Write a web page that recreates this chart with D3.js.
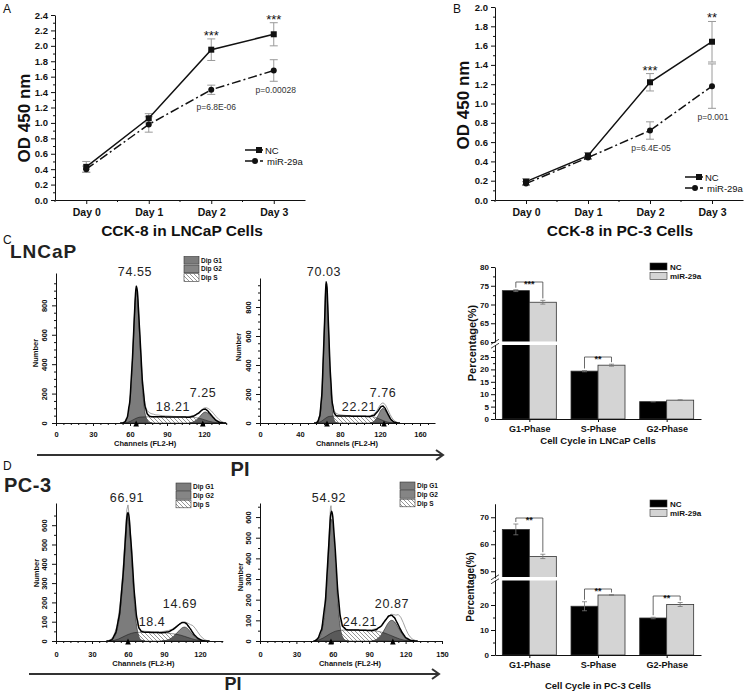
<!DOCTYPE html>
<html><head><meta charset="utf-8">
<script src="https://cdn.jsdelivr.net/npm/d3@7"></script>
<style>body{margin:0;background:#fff}svg{display:block;font-family:Arial,"Liberation Sans",sans-serif}</style>
</head><body><svg id="c" width="750" height="695"></svg>
<script>
// ---------- data ----------
const days = ["Day 0","Day 1","Day 2","Day 3"];
const lncapNC = [0.43,1.06,1.95,2.15];
const lncapNCerr = [0.07,0.06,0.14,0.15];
const lncapMiR = [0.40,0.98,1.43,1.68];
const lncapMiRerr = [0.04,0.10,0.06,0.14];
const lncapStars = ["","","***","***"];
const lncapP = ["","","p=6.8E-06","p=0.00028"];
const pc3NC = [0.19,0.46,1.22,1.64];
const pc3NCerr = [0.03,0.03,0.09,0.21];
const pc3MiR = [0.17,0.44,0.72,1.18];
const pc3MiRerr = [0.02,0.02,0.09,0.23];
const pc3Stars = ["","","***","**"];
const pc3P = ["","","p=6.4E-05","p=0.001"];

const phases = ["G1-Phase","S-Phase","G2-Phase"];
const lncapBarNC = [73.7,19.3,7.0];
const lncapBarNCerr = [0.25,0.25,0.1];
const lncapBarMiR = [70.6,21.7,7.6];
const lncapBarMiRerr = [0.5,0.4,0.15];
const lncapBarSig = ["***","**",""];
const pc3BarNC = [65.5,19.5,14.8];
const pc3BarNCerr = [2.0,1.8,0.3];
const pc3BarMiR = [55.5,24.0,20.2];
const pc3BarMiRerr = [0.8,0.2,0.8];
const pc3BarSig = ["**","**","**"];

// flow histograms: [channel, count]
const lncapNC_G1 = [[54,0],[56,8],[58,40],[60,150],[62,420],[64,780],[65,900],[66,860],[68,560],[70,250],[72,80],[74,20],[76,3],[78,0]];
const lncapNC_S = [[56,0],[60,10],[64,28],[68,40],[75,42],[85,42],[95,41],[105,40],[112,38],[118,28],[124,12],[130,2],[134,0]];
const lncapNC_G2 = [[108,0],[112,10],[116,38],[119,66],[121,75],[123,68],[126,44],[129,20],[132,6],[136,0]];
const lncapNC_raw = [[52,0],[55,5],[57,20],[59,65],[61,260],[63,620],[64,820],[65,905],[66,880],[67,780],[68,600],[69,430],[70,300],[71,200],[72,140],[73,100],[74,85],[75,75],[76,70],[77,64],[79,60],[81,55],[83,54],[86,50],[89,48],[92,47],[95,45],[98,44],[101,44],[104,43],[107,44],[110,47],[113,55],[116,75],[118,90],[120,102],[122,104],[124,96],[126,82],[128,62],[130,42],[132,25],[134,12],[136,4],[138,0]];
const lncapNC_pct = ["74.55","18.21","7.25"];

const lncapMiR_G1 = [[56,0],[58,10],[60,50],[62,200],[64,560],[66,940],[67,900],[68,720],[70,350],[72,110],[74,25],[76,4],[78,0]];
const lncapMiR_S = [[57,0],[61,10],[65,30],[69,45],[76,48],[85,48],[95,47],[105,46],[112,44],[118,32],[124,14],[130,3],[134,0]];
const lncapMiR_G2 = [[110,0],[114,12],[118,50],[121,90],[123,100],[125,90],[128,55],[131,22],[134,6],[138,0]];
const lncapMiR_raw = [[54,0],[57,8],[59,30],[61,120],[63,380],[65,800],[66,960],[67,930],[68,760],[69,560],[70,380],[71,240],[72,160],[73,110],[74,85],[76,68],[78,60],[80,57],[83,54],[86,52],[90,50],[94,49],[98,48],[102,47],[106,47],[110,50],[113,58],[116,75],[118,98],[120,122],[122,138],[124,136],[126,118],[128,90],[130,60],[132,35],[134,18],[136,8],[138,2],[140,0]];
const lncapMiR_pct = ["70.03","22.21","7.76"];

const pc3NC_G1 = [[44,0],[47,8],[50,40],[53,130],[56,330],[58,520],[59.5,650],[61,600],[63,430],[65,230],[67,90],[69,25],[71,5],[74,0]];
const pc3NC_S = [[46,0],[52,10],[58,28],[63,40],[68,45],[76,45],[84,44],[92,41],[98,37],[104,30],[110,18],[116,7],[122,1],[126,0]];
const pc3NC_G2 = [[88,0],[94,8],[98,25],[102,50],[105,68],[107,72],[109,68],[112,48],[115,25],[118,10],[121,3],[124,0]];
const pc3NC_raw = [[42,0],[45,5],[48,25],[51,80],[54,220],[56,380],[58,580],[59,680],[60,705],[61,650],[62,560],[63,470],[64,360],[65,270],[66,180],[67,120],[68,85],[70,60],[72,52],[75,50],[78,49],[82,48],[86,48],[90,50],[94,55],[97,62],[100,75],[103,88],[106,96],[108,98],[110,92],[112,85],[114,80],[116,66],[118,48],[120,30],[122,16],[124,7],[126,2],[128,0]];
const pc3NC_pct = ["66.91","18.4","14.69"];

const pc3MiR_G1 = [[45,0],[48,10],[51,50],[54,180],[56,370],[58,560],[59,590],[60,560],[62,400],[64,200],[66,75],[68,20],[71,2],[73,0]];
const pc3MiR_S = [[46,0],[52,14],[58,36],[64,50],[70,53],[80,53],[90,51],[97,47],[103,38],[109,24],[115,10],[121,2],[126,0]];
const pc3MiR_G2 = [[92,0],[96,8],[100,30],[103,60],[106,90],[108.5,100],[111,92],[114,65],[117,35],[120,14],[124,3],[128,0]];
const pc3MiR_raw = [[44,0],[47,8],[50,35],[53,130],[55,280],[57,520],[58,640],[58.5,655],[59,620],[60,560],[61,480],[62,400],[63,300],[64,220],[65,150],[66,105],[67,80],[68,68],[70,58],[73,55],[77,54],[81,53],[85,52],[89,53],[93,56],[97,62],[100,75],[103,95],[106,118],[108,130],[110,128],[112,125],[114,128],[116,115],[118,90],[120,60],[122,35],[124,18],[126,8],[128,3],[130,0]];
const pc3MiR_pct = ["54.92","24.21","20.87"];

const legendNames = ["Dip G1","Dip G2","Dip S"];

// ---------- drawing ----------
const svg = d3.select("#c");
const defs = svg.append("defs");
const pat = defs.append("pattern").attr("id","hatch").attr("patternUnits","userSpaceOnUse").attr("width",4).attr("height",4);
pat.append("rect").attr("width",4).attr("height",4).attr("fill","#fff");
pat.append("path").attr("d","M-1,-1 L5,5 M-1,3 L1,5 M3,-1 L5,1").attr("stroke","#6a6a6a").attr("stroke-width",0.7);

function txt(x,y,s,o={}){
  const t = svg.append("text").attr("x",x).attr("y",y).text(s)
    .attr("font-size",o.size||10).attr("font-weight",o.bold?"bold":"normal")
    .attr("text-anchor",o.anchor||"start").attr("fill",o.fill||"#111");
  if(o.rot) t.attr("transform",`rotate(-90,${x},${y})`);
  if(o.ls) t.attr("letter-spacing",o.ls);
  return t;
}
function styleAxis(g,size,bold=true){
  g.attr("font-family",null);
  g.selectAll("text").attr("font-size",size).attr("font-weight",bold?"bold":"normal").attr("fill","#111");
  g.selectAll("line,path").attr("stroke","#111");
}

// ---- line panels ----
function linePanel(o){
  const x = d3.scalePoint().domain(days).range([o.x0,o.x1]).padding(0.5);
  const y = d3.scaleLinear().domain([0,o.ymax]).range([o.yb,o.yt]);
  const ya = svg.append("g").attr("transform",`translate(${o.x0},0)`)
    .call(d3.axisLeft(y).tickValues(d3.range(0,o.ymax+1e-9,0.2)).tickFormat(d3.format(".1f")).tickSize(4).tickSizeOuter(0).tickPadding(3));
  styleAxis(ya,9.5);
  const ym = svg.append("g").attr("transform",`translate(${o.x0},0)`)
    .call(d3.axisLeft(y).tickValues(d3.range(0.1,o.ymax,0.2)).tickSize(2).tickFormat(""));
  ym.select(".domain").remove(); styleAxis(ym,9);
  const xa = svg.append("g").attr("transform",`translate(0,${o.yb})`)
    .call(d3.axisBottom(x).tickSize(4).tickSizeOuter(0).tickPadding(5));
  styleAxis(xa,10.5);
  const step = x.step();
  days.forEach((d,i)=>{ if(i<3) svg.append("line").attr("x1",x(d)+step/2).attr("x2",x(d)+step/2).attr("y1",o.yb).attr("y2",o.yb+2).attr("stroke","#111"); });
  svg.append("line").attr("x1",x(days[0])-step/2).attr("x2",x(days[0])-step/2).attr("y1",o.yb).attr("y2",o.yb+2).attr("stroke","#111");

  const series = [
    {v:o.nc, e:o.ncErr, dash:null, mark:"sq"},
    {v:o.mir, e:o.mirErr, dash:"9,3,2,3", mark:"ci"}
  ];
  series.forEach(s=>{
    s.v.forEach((v,i)=>{
      const cx = x(days[i]);
      const g = svg.append("g").attr("stroke","#9a9a9a").attr("stroke-width",1);
      g.append("line").attr("x1",cx).attr("x2",cx).attr("y1",y(v-s.e[i])).attr("y2",y(v+s.e[i]));
      [v-s.e[i],v+s.e[i]].forEach(w=>g.append("line").attr("x1",cx-4).attr("x2",cx+4).attr("y1",y(w)).attr("y2",y(w)));
    });
  });
  series.forEach(s=>{
    const line = d3.line().x((d,i)=>x(days[i])).y(d=>y(d));
    const p = svg.append("path").attr("d",line(s.v)).attr("fill","none").attr("stroke","#111").attr("stroke-width",1.5);
    if(s.dash) p.attr("stroke-dasharray",s.dash);
    s.v.forEach((v,i)=>{
      if(s.mark==="sq") svg.append("rect").attr("x",x(days[i])-3).attr("y",y(v)-3).attr("width",6).attr("height",6).attr("fill","#111");
      else svg.append("circle").attr("cx",x(days[i])).attr("cy",y(v)).attr("r",3).attr("fill","#111");
    });
  });
  o.stars.forEach((s,i)=>{ if(s) txt(x(days[i]),y(o.nc[i]+o.ncErr[i])+1,s,{size:13,anchor:"middle"}); });
  o.p.forEach((s,i)=>{ if(s) txt(x(days[i])+o.pdx[i],o.py[i],s,{size:8.5,anchor:"middle",fill:"#333"}); });
  const lg = [{n:"NC",mark:"sq",dash:null,y:o.ly},{n:"miR-29a",mark:"ci",dash:"7,3,2,3",y:o.ly+11}];
  lg.forEach(l=>{
    const p = svg.append("line").attr("x1",o.lx).attr("x2",o.lx+18).attr("y1",l.y).attr("y2",l.y).attr("stroke","#111").attr("stroke-width",1.5);
    if(l.dash) p.attr("stroke-dasharray",l.dash);
    if(l.mark==="sq") svg.append("rect").attr("x",o.lx+11).attr("y",l.y-3).attr("width",6).attr("height",6).attr("fill","#111");
    else svg.append("circle").attr("cx",o.lx+10).attr("cy",l.y).attr("r",3).attr("fill","#111");
    txt(o.lx+(l.mark==="sq"?20:22),l.y+3.5,l.n,{size:9.5});
  });
  txt(o.ylx,o.yly,"OD 450 nm",{size:17,bold:true,anchor:"middle",rot:true});
  txt(o.tx,236,o.title,{size:15.5,bold:true,anchor:"middle"});
}

linePanel({x0:55,x1:305,yb:200,yt:15,ymax:2.4,nc:lncapNC,ncErr:lncapNCerr,mir:lncapMiR,mirErr:lncapMiRerr,
  stars:lncapStars,p:lncapP,pdx:[0,0,5,2],py:[0,0,110,93],lx:245,ly:150,ylx:30,yly:118,tx:182,title:"CCK-8 in LNCaP Cells"});
linePanel({x0:495,x1:743,yb:200,yt:7,ymax:2.0,nc:pc3NC,ncErr:pc3NCerr,mir:pc3MiR,mirErr:pc3MiRerr,
  stars:pc3Stars,p:pc3P,pdx:[0,0,1,1],py:[0,0,151,120],lx:685,ly:177,ylx:469,yly:105,tx:620,title:"CCK-8 in PC-3 Cells"});

txt(3,13,"A",{size:12});
txt(453,13,"B",{size:12});
txt(3,244,"C",{size:12});
txt(3,470,"D",{size:12});

// ---- bar panels ----
function barPanel(o){
  const x = d3.scalePoint().domain(phases).range([495,701]).padding(0.5);
  const yL = d3.scaleLinear().domain([0,o.lowMax]).range([o.yb,o.lowTop]);
  const yU = d3.scaleLinear().domain(o.upDom).range(o.upRange);
  const yv = v => v<=o.lowMax ? yL(v) : yU(v);
  const bw = 27;
  const groups = [{v:o.nc,e:o.ncErr,fill:"#000",dx:-bw},{v:o.mir,e:o.mirErr,fill:"#d4d4d4",dx:0}];
  groups.forEach(g=>{
    g.v.forEach((v,i)=>{
      svg.append("rect").attr("x",x(phases[i])+g.dx).attr("y",yv(v)).attr("width",bw).attr("height",o.yb-yv(v))
        .attr("fill",g.fill).attr("stroke","#333").attr("stroke-width",0.8);
    });
  });
  svg.append("rect").attr("x",496).attr("y",o.gap[0]).attr("width",210).attr("height",o.gap[1]-o.gap[0]).attr("fill","#fff");
  groups.forEach(g=>{
    g.v.forEach((v,i)=>{
      const cx = x(phases[i])+g.dx+bw/2;
      const eg = svg.append("g").attr("stroke","#777").attr("stroke-width",0.8);
      eg.append("line").attr("x1",cx).attr("x2",cx).attr("y1",yv(v-g.e[i])).attr("y2",yv(v+g.e[i]));
      [v-g.e[i],v+g.e[i]].forEach(w=>eg.append("line").attr("x1",cx-2.5).attr("x2",cx+2.5).attr("y1",yv(w)).attr("y2",yv(w)));
    });
  });
  const aL = svg.append("g").attr("transform","translate(495,0)")
    .call(d3.axisLeft(yL).tickValues(o.lowTicks).tickSize(4).tickSizeOuter(0).tickPadding(2));
  styleAxis(aL,8);
  const aLm = svg.append("g").attr("transform","translate(495,0)").call(d3.axisLeft(yL).tickValues(o.lowMinor).tickSize(2).tickFormat(""));
  aLm.select(".domain").remove(); styleAxis(aLm,8);
  const aU = svg.append("g").attr("transform","translate(495,0)")
    .call(d3.axisLeft(yU).tickValues(o.upTicks).tickSize(4).tickSizeOuter(0).tickPadding(2));
  styleAxis(aU,8);
  const aUm = svg.append("g").attr("transform","translate(495,0)").call(d3.axisLeft(yU).tickValues(o.upMinor).tickSize(2).tickFormat(""));
  aUm.select(".domain").remove(); styleAxis(aUm,8);
  const bm = (o.gap[0]+o.gap[1])/2;
  svg.append("path").attr("d",`M491,${bm+1} L499,${bm-4} M491,${bm+5} L499,${bm}`).attr("stroke","#111").attr("stroke-width",0.8).attr("fill","none");
  const aX = svg.append("g").attr("transform",`translate(0,${o.yb})`)
    .call(d3.axisBottom(x).tickSize(3).tickSizeOuter(0).tickPadding(4));
  styleAxis(aX,9);
  o.sig.forEach((s,i)=>{
    if(!s) return;
    const x1 = x(phases[i])-bw/2, x2 = x(phases[i])+bw/2, by = o.sigY[i];
    const l1 = yv(o.nc[i]+o.ncErr[i])-2, l2 = yv(o.mir[i]+o.mirErr[i])-2;
    svg.append("path").attr("d",`M${x1},${l1} L${x1},${by} L${x2},${by} L${x2},${l2}`).attr("fill","none").attr("stroke","#444").attr("stroke-width",0.8);
    txt(x(phases[i]),by+4.5,s,{size:9,bold:true,anchor:"middle"});
  });
  [{n:"NC",f:"#000"},{n:"miR-29a",f:"#d4d4d4"}].forEach((l,i)=>{
    const yy = o.ly+i*9.5;
    svg.append("rect").attr("x",650).attr("y",yy).attr("width",17).attr("height",7).attr("fill",l.f).attr("stroke","#333").attr("stroke-width",0.6);
    txt(670,yy+6.5,l.n,{size:8,bold:true});
  });
  txt(o.ylx,o.yly,"Percentage(%)",{size:o.ylsize,bold:true,anchor:"middle",rot:true});
  txt(598,o.ty,o.title,{size:9.5,bold:true,anchor:"middle"});
}

barPanel({yb:419,lowMax:30,lowTop:344.6,upDom:[60,80],upRange:[342,267],gap:[341.5,345],
  lowTicks:[0,5,10,15,20,25],lowMinor:[2.5,7.5,12.5,17.5,22.5,27.5],upTicks:[60,65,70,75,80],upMinor:[62.5,67.5,72.5,77.5],
  nc:lncapBarNC,ncErr:lncapBarNCerr,mir:lncapBarMiR,mirErr:lncapBarMiRerr,sig:lncapBarSig,sigY:[282,357,0],
  ly:263,ylx:476,yly:343,ylsize:11,ty:444,title:"Cell Cycle in LNCaP Cells"});
barPanel({yb:655,lowMax:30,lowTop:580,upDom:[47.5,75],upRange:[578,503.75],gap:[577,580.5],
  lowTicks:[0,10,20],lowMinor:[5,15,25],upTicks:[50,60,70],upMinor:[55,65],
  nc:pc3BarNC,ncErr:pc3BarNCerr,mir:pc3BarMiR,mirErr:pc3BarMiRerr,sig:pc3BarSig,sigY:[518,589,596],
  ly:500,ylx:474,yly:587,ylsize:10,ty:689,title:"Cell Cycle in PC-3 Cells"});

// ---- flow histograms ----
let clipN = 0;
function interp(pts,c){
  if(c<=pts[0][0]||c>=pts[pts.length-1][0]) return 0;
  for(let i=1;i<pts.length;i++){
    if(c<=pts[i][0]){const a=pts[i-1],b=pts[i];return a[1]+(b[1]-a[1])*(c-a[0])/(b[0]-a[0]);}
  }
  return 0;
}
function hist(o){
  const x = d3.scaleLinear().domain(o.xd).range(o.xr);
  const y = d3.scaleLinear().domain(o.yd).range(o.yr);
  const y0 = y(0);
  const area = d3.area().x(d=>x(d[0])).y0(y0).y1(d=>y(d[1])).curve(d3.curveMonotoneX);
  const line = d3.line().x(d=>x(d[0])).y(d=>y(d[1])).curve(d3.curveMonotoneX);
  svg.append("path").attr("d",area(o.S)).attr("fill","url(#hatch)").attr("stroke","#555").attr("stroke-width",0.6);
  svg.append("path").attr("d",area(o.G1)).attr("fill","#7c7c7c").attr("stroke","#222").attr("stroke-width",0.6);
  svg.append("path").attr("d",area(o.G2)).attr("fill","#858585").attr("stroke","#222").attr("stroke-width",0.6);
  const cid = "cl"+(clipN++);
  const cp = defs.append("clipPath").attr("id",cid);
  cp.append("path").attr("d",area(o.G1));
  cp.append("path").attr("d",area(o.G2));
  svg.append("path").attr("d",area(o.S)).attr("fill","#5a5a5a").attr("stroke","#222").attr("stroke-width",0.6).attr("clip-path",`url(#${cid})`);
  svg.append("path").attr("d",d3.line().x(d=>x(d[0])).y(d=>y(d[1]))(o.raw)).attr("fill","none").attr("stroke","#8a8a8a").attr("stroke-width",0.8);
  const grid = d3.range(o.raw[0][0], o.raw[o.raw.length-1][0]+0.01, 1);
  const total = grid.map(c=>[c, interp(o.G1,c)+interp(o.S,c)+interp(o.G2,c)]);
  svg.append("path").attr("d",line(total)).attr("fill","none").attr("stroke","#000").attr("stroke-width",1.5);
  const ay = svg.append("g").attr("transform",`translate(${o.xr[0]},0)`)
    .call(d3.axisLeft(y).tickValues(o.yTicks).tickSize(4).tickSizeOuter(0));
  styleAxis(ay,7.5);
  ay.selectAll(".tick text").attr("transform","rotate(-90)").attr("x",0).attr("y",-9).attr("dy",0).attr("text-anchor","middle");
  const aym = svg.append("g").attr("transform",`translate(${o.xr[0]},0)`)
    .call(d3.axisLeft(y).tickValues(o.yMinor).tickSize(2).tickFormat(""));
  aym.select(".domain").remove(); styleAxis(aym,7);
  const ax = svg.append("g").attr("transform",`translate(0,${y0})`)
    .call(d3.axisBottom(x).tickValues(o.xTicks).tickSize(3).tickSizeOuter(0).tickPadding(o.xpad));
  styleAxis(ax,7.5);
  const axm = svg.append("g").attr("transform",`translate(0,${y0})`)
    .call(d3.axisBottom(x).tickValues(o.xMinor).tickSize(2).tickFormat(""));
  axm.select(".domain").remove(); styleAxis(axm,7);
  o.marks.forEach(c=>{
    const cx = x(c);
    svg.append("path").attr("d",`M${cx-2.8},${y0+3.5} L${cx+2.8},${y0+3.5} L${cx},${y0-2.5} Z`).attr("fill","#000");
  });
  o.pct.forEach((s,i)=>txt(o.lab[i][0],o.lab[i][1],s,{size:12.5,anchor:"middle",fill:"#222",ls:0.6}));
  txt(o.numX,o.numY,"Number",{size:7.5,bold:true,anchor:"middle",rot:true});
  txt((o.xr[0]+o.xr[1])/2-o.chOff,o.chY,"Channels (FL2-H)",{size:7.5,bold:true,anchor:"middle"});
  if(o.leg){
    const [lx,ly] = o.leg;
    const fills = ["#7c7c7c","#858585","url(#hatch)"];
    legendNames.forEach((n,i)=>{
      svg.append("rect").attr("x",lx).attr("y",ly+i*8.6).attr("width",15).attr("height",7.6).attr("fill",fills[i]).attr("stroke","#333").attr("stroke-width",0.6);
      txt(lx+17,ly+i*8.6+6.3,n,{size:6.5,bold:true});
    });
  }
}
const minor = (a,b,s,skip)=>d3.range(a,b+1e-9,s).filter(v=>v%skip!==0);

hist({xd:[0,138],xr:[56,226.2],yd:[0,1020],yr:[423,273],G1:lncapNC_G1,S:lncapNC_S,G2:lncapNC_G2,raw:lncapNC_raw,
  yTicks:[0,200,400,600,800],yMinor:minor(0,1000,50,200),xTicks:[0,30,60,90,120],xMinor:minor(0,138,6,30),xpad:6,
  marks:[65,119],pct:lncapNC_pct,lab:[[135,276],[173,411],[203,397]],numX:38,numY:353,chY:446,chOff:-4,leg:[184,256.5]});
hist({xd:[0,175],xr:[260,435],yd:[0,1000],yr:[423,278],G1:lncapMiR_G1,S:lncapMiR_S,G2:lncapMiR_G2,raw:lncapMiR_raw,
  yTicks:[0,200,400,600,800],yMinor:minor(0,1000,50,200),xTicks:[0,40,80,120,160],xMinor:minor(0,175,8,40),xpad:6,
  marks:[67,124],pct:lncapMiR_pct,lab:[[324,276],[359,411],[383,397]],numX:241,numY:347,chY:446,chOff:0.5,leg:null});
hist({xd:[0,139],xr:[56,222.8],yd:[0,715],yr:[641,503],G1:pc3NC_G1,S:pc3NC_S,G2:pc3NC_G2,raw:pc3NC_raw,
  yTicks:[0,100,200,300,400,500,600],yMinor:minor(0,700,50,100),xTicks:[0,30,60,90,120],xMinor:minor(0,139,6,30),xpad:8,
  marks:[60],pct:pc3NC_pct,lab:[[127,502],[152,626],[180,608]],numX:39,numY:573,chY:666,chOff:-4,leg:[176,483]});
hist({xd:[0,150],xr:[260,442],yd:[0,668],yr:[641,503],G1:pc3MiR_G1,S:pc3MiR_S,G2:pc3MiR_G2,raw:pc3MiR_raw,
  yTicks:[0,100,200,300,400,500,600],yMinor:minor(0,650,50,100),xTicks:[0,30,60,90,120,150],xMinor:minor(0,150,6,30),xpad:8,
  marks:[58.5,109.5],pct:pc3MiR_pct,lab:[[329,502],[360,626],[392,608]],numX:243,numY:577,chY:666,chOff:1,leg:[400,482]});

txt(10,258,"LNCaP",{size:19,bold:true,ls:1,fill:"#222"});
txt(4,492,"PC-3",{size:20,bold:true,ls:0.5,fill:"#222"});

function arrow(x1,x2,yy){
  svg.append("line").attr("x1",x1).attr("x2",x2).attr("y1",yy).attr("y2",yy).attr("stroke","#333").attr("stroke-width",2);
  svg.append("path").attr("d",`M${x2-7},${yy-5} L${x2},${yy} L${x2-7},${yy+5}`).attr("fill","none").attr("stroke","#333").attr("stroke-width",2);
}
arrow(37,443,455);
arrow(29,439,674);
txt(240,476,"PI",{size:20,bold:true,anchor:"middle",fill:"#222"});
txt(233,690,"PI",{size:18,bold:true,anchor:"middle",fill:"#222"});
</script></body></html>
